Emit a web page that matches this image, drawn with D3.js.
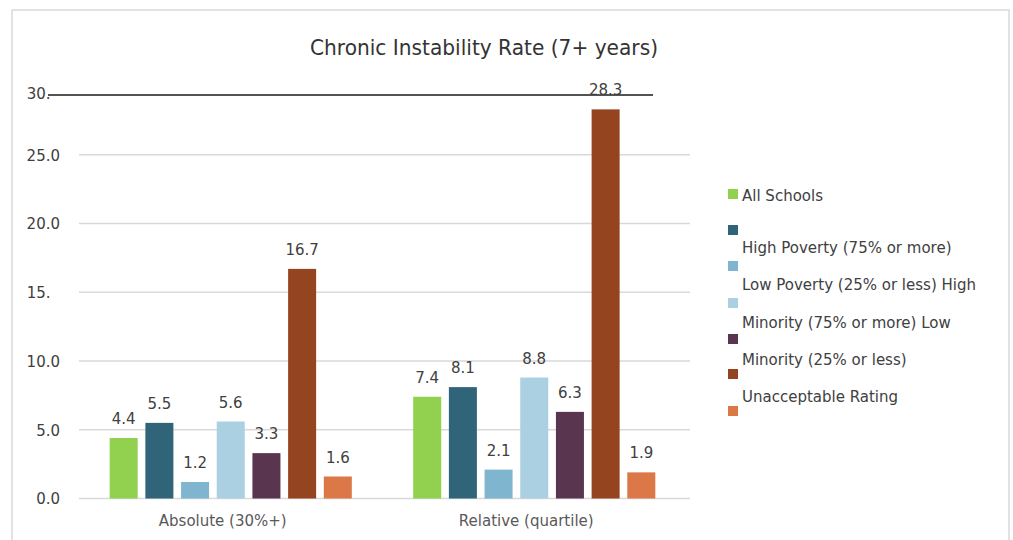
<!DOCTYPE html>
<html>
<head>
<meta charset="utf-8">
<script src="https://cdn.jsdelivr.net/npm/d3@7"></script>
<style>
  html, body { margin: 0; padding: 0; background: #fff; }
  svg { display: block; }
  text { font-family: "DejaVu Sans", sans-serif; }
</style>
</head>
<body>
<svg id="chart" width="1013" height="540"></svg>
<script>
// Chart data
const categories = ["Absolute (30%+)", "Relative (quartile)"];
const seriesKeys = ["s1", "s2", "s3", "s4", "s5", "s6", "s7"];
const seriesColors = ["#92d050", "#2f6479", "#80b5cf", "#abd0e1", "#5a3550", "#954420", "#dc7747"];
const absoluteValues = [4.4, 5.5, 1.2, 5.6, 3.3, 16.7, 1.6];
const relativeValues = [7.4, 8.1, 2.1, 8.8, 6.3, 28.3, 1.9];
const tickValues = [0, 5, 10, 15, 20, 25, 30];
const tickLabels = ["0.0", "5.0", "10.0", "15.", "20.0", "25.0", "30."];
const legendLines = [
  "All Schools",
  "High Poverty (75% or more)",
  "Low Poverty (25% or less) High",
  "Minority (75% or more) Low",
  "Minority (25% or less)",
  "Unacceptable Rating"
];
const titleText = "Chronic Instability Rate (7+ years)";

const rows = categories.map((c, i) => ({
  category: c,
  values: (i === 0 ? absoluteValues : relativeValues)
}));

const svg = d3.select("#chart");

// Outer frame
svg.append("rect")
  .attr("x", 12).attr("y", 10)
  .attr("width", 997).attr("height", 545)
  .attr("fill", "none")
  .attr("stroke", "#d9d9d9")
  .attr("stroke-width", 1.5);

// Scales
const plotLeft = 79, plotRight = 686;
const x0 = d3.scaleBand().domain(categories).range([plotLeft, plotRight]).paddingInner(0).paddingOuter(0);
const x1 = d3.scaleBand().domain(seriesKeys).range([0, x0.bandwidth()]).paddingInner(0.215).paddingOuter(0.86);
const y = d3.scaleLinear().domain([0, 30]).range([498.5, 86]);

// Gridlines (the top one is drawn as a dark rule)
const grid = svg.append("g");
tickValues.filter(v => v < 30).forEach(v => {
  grid.append("line")
    .attr("x1", plotLeft).attr("x2", 690)
    .attr("y1", y(v)).attr("y2", y(v))
    .attr("stroke", "#d9d9d9")
    .attr("stroke-width", 1.3);
});
const topRuleY = y(30) + 9;
grid.append("line")
  .attr("x1", 48).attr("x2", 653)
  .attr("y1", topRuleY).attr("y2", topRuleY)
  .attr("stroke", "#1a1a1a")
  .attr("stroke-width", 1.3);

// Y tick labels
const yAxis = d3.axisLeft(y)
  .tickValues(tickValues)
  .tickFormat((d, i) => tickLabels[i])
  .tickSize(0)
  .tickPadding(0);
const yG = svg.append("g").attr("transform", "translate(60,0)").call(yAxis);
yG.select(".domain").remove();
yG.selectAll("text")
  .attr("font-family", "DejaVu Sans, sans-serif")
  .attr("font-size", 15)
  .attr("fill", "#404040")
  .attr("dy", "0.36em")
  .each(function (d, i) {
    const t = d3.select(this);
    if (tickLabels[i].endsWith(".")) t.attr("dx", -9.5);
    if (d === 30) t.attr("y", 7);
  });

// Bars
const groups = svg.append("g").selectAll("g")
  .data(rows).join("g")
  .attr("transform", d => `translate(${x0(d.category)},0)`);

groups.selectAll("rect")
  .data(d => d.values.map((v, j) => ({ key: seriesKeys[j], value: v, color: seriesColors[j] })))
  .join("rect")
  .attr("x", d => x1(d.key))
  .attr("y", d => y(d.value))
  .attr("width", x1.bandwidth())
  .attr("height", d => y(0) - y(d.value))
  .attr("fill", d => d.color);

// Value labels
groups.selectAll("text.val")
  .data(d => d.values.map((v, j) => ({ key: seriesKeys[j], value: v })))
  .join("text")
  .attr("class", "val")
  .attr("x", d => x1(d.key) + x1.bandwidth() / 2)
  .attr("y", d => y(d.value) - 14)
  .attr("text-anchor", "middle")
  .attr("font-size", 15)
  .attr("fill", "#404040")
  .text(d => d.value.toFixed(1));

// Category labels
const xAxis = d3.axisBottom(x0).tickSize(0).tickPadding(0);
const xG = svg.append("g").attr("transform", `translate(0,${y(0)})`).call(xAxis);
xG.select(".domain").remove();
xG.selectAll("text")
  .attr("font-family", "DejaVu Sans, sans-serif")
  .attr("font-size", 15)
  .attr("fill", "#595959")
  .attr("dx", -8)
  .attr("y", 17)
  .attr("dy", "0.71em");

// Title
svg.append("text")
  .attr("x", 484)
  .attr("y", 55)
  .attr("text-anchor", "middle")
  .attr("font-family", "Liberation Sans Narrow, Open Sans, sans-serif")
  .attr("font-size", 22)
  .attr("fill", "#333333")
  .attr("textLength", 348)
  .attr("lengthAdjust", "spacingAndGlyphs")
  .text(titleText);

// Legend: swatches and text lines
const legendSwatchY = [194, 230, 266, 303, 339, 374, 411];
const legendTextY = [196, 248, 285, 323, 360, 397];
svg.append("g").selectAll("rect")
  .data(seriesColors).join("rect")
  .attr("x", 728)
  .attr("y", (d, i) => legendSwatchY[i] - 5)
  .attr("width", 10).attr("height", 10)
  .attr("fill", d => d);

svg.append("g").selectAll("text")
  .data(legendLines).join("text")
  .attr("x", 742)
  .attr("y", (d, i) => legendTextY[i])
  .attr("dy", "0.36em")
  .attr("font-size", 15)
  .attr("fill", "#404040")
  .text(d => d);
</script>
</body>
</html>
